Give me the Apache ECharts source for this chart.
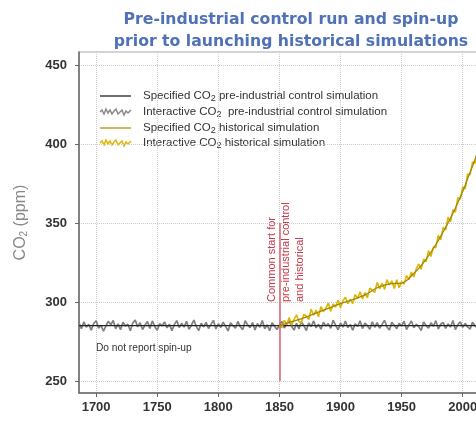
<head>
    <meta charset="utf-8">
    <title>CO2 spin-up</title>
    <script src="https://cdn.jsdelivr.net/npm/echarts@6/dist/echarts.min.js"></script>
</head>

<body style="margin:0">
    <div id="main" style="width: 476px; height:432px;"></div>

    <script type="text/javascript">

        // x ticks / y ticks
        const yearTicks = [1700, 1750, 1800, 1850, 1900, 1950, 2000]
        const co2Ticks = [250, 300, 350, 400, 450]

        // interactive CO2, pre-industrial control (every 2 years from 1686)
        const ctrlStart = 1686
        const ctrlStep = 2
        const ctrlInteractive = [
            286.8, 283.1, 287.5, 284.0, 285.9, 282.2, 286.4, 288.1, 283.5, 285.2,
            281.6, 284.7, 287.9, 285.6, 288.3, 283.0, 286.1, 282.4, 287.2, 284.8,
            285.9, 281.8, 286.7, 288.5, 284.2, 286.9, 282.6, 285.4, 287.6, 283.3,
            288.0, 284.5, 282.1, 286.3, 284.9, 287.4, 283.6, 286.0, 281.9, 285.7,
            288.2, 283.8, 286.5, 284.1, 287.8, 282.7, 285.3, 288.6, 284.4, 282.0,
            286.6, 284.2, 287.1, 283.2, 285.8, 288.4, 282.9, 286.2, 283.9, 287.3,
            284.6, 281.7, 286.8, 285.0, 283.4, 287.7, 284.3, 282.5, 288.1, 285.5,
            283.7, 287.0, 282.3, 286.4, 284.0, 288.3, 283.1, 285.6, 281.8, 286.9,
            284.7, 282.6, 285.4, 287.6, 283.5, 286.1, 288.2, 284.6, 282.2, 286.5,
            283.0, 287.4, 285.1, 281.9, 286.8, 284.3, 288.0, 283.6, 285.9, 282.8,
            287.2, 284.8, 286.3, 283.3, 288.5, 285.2, 282.4, 286.7, 284.1, 287.9,
            283.8, 285.7, 282.1, 286.2, 284.5, 288.1, 283.2, 286.6, 285.0, 282.7,
            287.5, 284.0, 286.9, 283.4, 285.8, 288.4, 284.2, 282.3, 287.1, 285.3,
            283.1, 286.4, 284.9, 287.8, 282.6, 285.5, 288.0, 283.7, 286.0, 284.4,
            282.0, 287.3, 285.1, 283.5, 286.8, 284.6, 288.2, 282.9, 285.9, 287.0,
            283.3, 286.2, 284.1, 288.3, 282.5, 285.6, 287.4, 283.9, 286.5, 284.2,
            282.8, 287.1, 285.0, 283.6
        ]

        // specified CO2, pre-industrial control
        const ctrlSpecYears = [1686, 2013]
        const ctrlSpecValues = [285, 285]

        // interactive CO2, historical (every 2 years from 1850)
        const histStart = 1850
        const histStep = 2
        const histInteractive = [
            285.5, 283.7, 288.4, 285.8, 290.1, 285.3, 289.0, 291.9, 287.5, 286.9,
            292.2, 291.0, 288.9, 295.4, 291.6, 294.9, 290.6, 297.0, 293.8, 296.0,
            299.3, 294.2, 298.7, 296.9, 301.3, 296.3, 300.7, 303.0, 298.9, 301.8,
            299.0, 304.7, 302.2, 306.5, 301.9, 305.9, 302.6, 308.8, 307.5, 306.0,
            312.4, 308.3, 312.0, 307.9, 314.1, 310.8, 313.4, 308.5, 314.1, 309.0,
            312.9, 311.3, 316.6, 314.2, 318.9, 315.8, 321.1, 324.0, 320.6, 327.1,
            325.5, 332.5, 328.8, 334.9, 334.4, 342.2, 339.3, 347.3, 345.5, 353.7,
            350.7, 358.4, 356.8, 366.1, 364.9, 372.8, 371.6, 381.0, 380.5, 388.6,
            387.8, 395.8
        ]

        // specified CO2, historical
        const histSpecYears = [1850, 1860, 1870, 1880, 1890, 1900, 1910, 1920, 1930, 1940,
            1950, 1960, 1970, 1980, 1990, 2000, 2005, 2010, 2013]
        const histSpecValues = [285, 287.5, 290, 293, 296, 299, 301.5, 304.5, 309, 311.5,
            312, 318, 327, 339, 353, 370, 380, 390, 396]

        const startYear = 1850
        const markerRange = [250, 350]

        const legendNames = [
            'Specified CO{s|2} pre-industrial control simulation',
            'Interactive CO{s|2}  pre-industrial control simulation',
            'Specified CO{s|2} historical simulation',
            'Interactive CO{s|2} historical simulation'
        ]

        const pairs = (xs, ys) => ys.map((v, i) => [xs[i], v])
        const stepped = (start, step, ys) => ys.map((v, i) => [start + i * step, v])

        const subRich = {
            s: { fontSize: 9, lineHeight: 9, verticalAlign: 'bottom', fill: '#333' }
        }

        var myChart = echarts.init(document.getElementById('main'));

        // legend drawn by hand (wiggly icons)
        const legendRows = [96, 112, 128, 143]
        const wiggle = [[0, 0], [2, -2], [4, 2], [6, -3], [8, 1], [10, -2], [12, 2], [14, -1], [16, -3],
            [18, 2], [20, 0], [22, -2], [24, 3], [26, -1], [28, 1], [31, -2]]
        const legendGraphics = []
        const iconStyles = [
            { stroke: '#222', lineWidth: 1.3, wiggly: false },
            { stroke: '#8a8a8a', lineWidth: 1.5, wiggly: true },
            { stroke: '#b8a431', lineWidth: 1.5, wiggly: false },
            { stroke: '#e0b400', lineWidth: 1.5, wiggly: true }
        ]
        legendRows.forEach((y, i) => {
            const st = iconStyles[i]
            legendGraphics.push({
                type: 'polyline',
                x: 100, y: y,
                shape: { points: st.wiggly ? wiggle : [[0, 0], [31, 0]] },
                style: { stroke: st.stroke, lineWidth: st.lineWidth, fill: null }
            })
            legendGraphics.push({
                type: 'text',
                x: 143, y: y,
                style: {
                    text: legendNames[i],
                    fontSize: 11.5,
                    fontFamily: 'Liberation Sans',
                    fill: '#333',
                    verticalAlign: 'middle',
                    lineHeight: 14,
                    rich: subRich
                }
            })
        })

        option = {
            backgroundColor: '#fff',
            animation: false,
            title: {
                text: 'Pre-industrial control run and spin-up\nprior to launching historical simulations',
                left: 286,
                top: 4,
                textAlign: 'center',
                textStyle: {
                    fontFamily: 'DejaVu Sans',
                    fontWeight: 'bold',
                    fontSize: 15.7,
                    lineHeight: 22,
                    color: '#4f71b6'
                }
            },
            grid: {
                left: 79,
                right: -2,
                top: 52,
                bottom: 39,
                show: true,
                borderColor: '#aaa',
                borderWidth: 1,
                containLabel: false,
                outerBoundsMode: 'none'
            },
            xAxis: {
                type: 'value',
                min: 1686,
                max: 2012.5,
                name: 'Year',
                nameLocation: 'middle',
                nameGap: 38,
                nameTextStyle: { fontSize: 15, color: '#888', fontFamily: 'Liberation Sans' },
                axisLine: { lineStyle: { color: '#666', width: 1.5 } },
                axisTick: { show: true, length: 4, customValues: yearTicks, lineStyle: { color: '#666' } },
                axisLabel: {
                    customValues: yearTicks,
                    formatter: v => String(v),
                    margin: 8,
                    fontSize: 13,
                    fontWeight: 'bold',
                    color: '#333',
                    fontFamily: 'Liberation Sans'
                },
                splitLine: { show: true, lineStyle: { color: '#ccc', type: 'dotted' } }
            },
            yAxis: {
                type: 'value',
                min: 242.4,
                max: 458.2,
                name: 'CO{s|2} (ppm)',
                nameLocation: 'middle',
                nameGap: 50,
                nameTextStyle: {
                    fontSize: 16,
                    color: '#888',
                    fontFamily: 'Liberation Sans',
                    rich: { s: { fontSize: 10, lineHeight: 10, verticalAlign: 'bottom', color: '#888' } }
                },
                axisLine: { show: true, lineStyle: { color: '#666', width: 1.5 } },
                axisTick: { show: true, length: 4, customValues: co2Ticks, lineStyle: { color: '#666' } },
                axisLabel: {
                    customValues: co2Ticks,
                    formatter: v => String(v),
                    margin: 12,
                    fontSize: 13,
                    fontWeight: 'bold',
                    color: '#333',
                    fontFamily: 'Liberation Sans'
                },
                splitLine: { show: true, lineStyle: { color: '#ccc', type: 'dotted' } }
            },
            series: [
                {
                    name: 'ctrlInteractive',
                    type: 'line',
                    showSymbol: false,
                    data: stepped(ctrlStart, ctrlStep, ctrlInteractive),
                    lineStyle: { color: '#808080', width: 1.7 },
                    z: 2
                },
                {
                    name: 'ctrlSpecified',
                    type: 'line',
                    showSymbol: false,
                    data: pairs(ctrlSpecYears, ctrlSpecValues),
                    lineStyle: { color: '#222', width: 1.2 },
                    z: 3
                },
                {
                    name: 'histInteractive',
                    type: 'line',
                    showSymbol: false,
                    data: stepped(histStart, histStep, histInteractive),
                    lineStyle: { color: '#e0b400', width: 1.6 },
                    z: 4,
                    markLine: {
                        silent: true,
                        symbol: 'none',
                        label: { show: false },
                        lineStyle: { color: '#d9606e', width: 1.5, type: 'solid' },
                        data: [[
                            { coord: [startYear, markerRange[0]] },
                            { coord: [startYear, markerRange[1]] }
                        ]]
                    }
                },
                {
                    name: 'histSpecified',
                    type: 'line',
                    showSymbol: false,
                    smooth: 0.4,
                    data: pairs(histSpecYears, histSpecValues),
                    lineStyle: { color: '#9a8a12', width: 1.3 },
                    z: 5
                }
            ],
            graphic: legendGraphics.concat([
                {
                    type: 'text',
                    x: 96, y: 348,
                    style: {
                        text: 'Do not report spin-up',
                        fontSize: 10.2,
                        fontFamily: 'Liberation Sans',
                        fill: '#333',
                        verticalAlign: 'middle'
                    }
                },
                {
                    type: 'text',
                    x: 286, y: 302,
                    rotation: Math.PI / 2,
                    style: {
                        text: 'Common start for\npre-industrial control\nand historical',
                        fontSize: 11,
                        lineHeight: 14,
                        fontFamily: 'Liberation Sans',
                        fill: '#c23b4b',
                        align: 'left',
                        verticalAlign: 'middle'
                    }
                }
            ])
        };

        myChart.setOption(option);
    </script>
</body>
